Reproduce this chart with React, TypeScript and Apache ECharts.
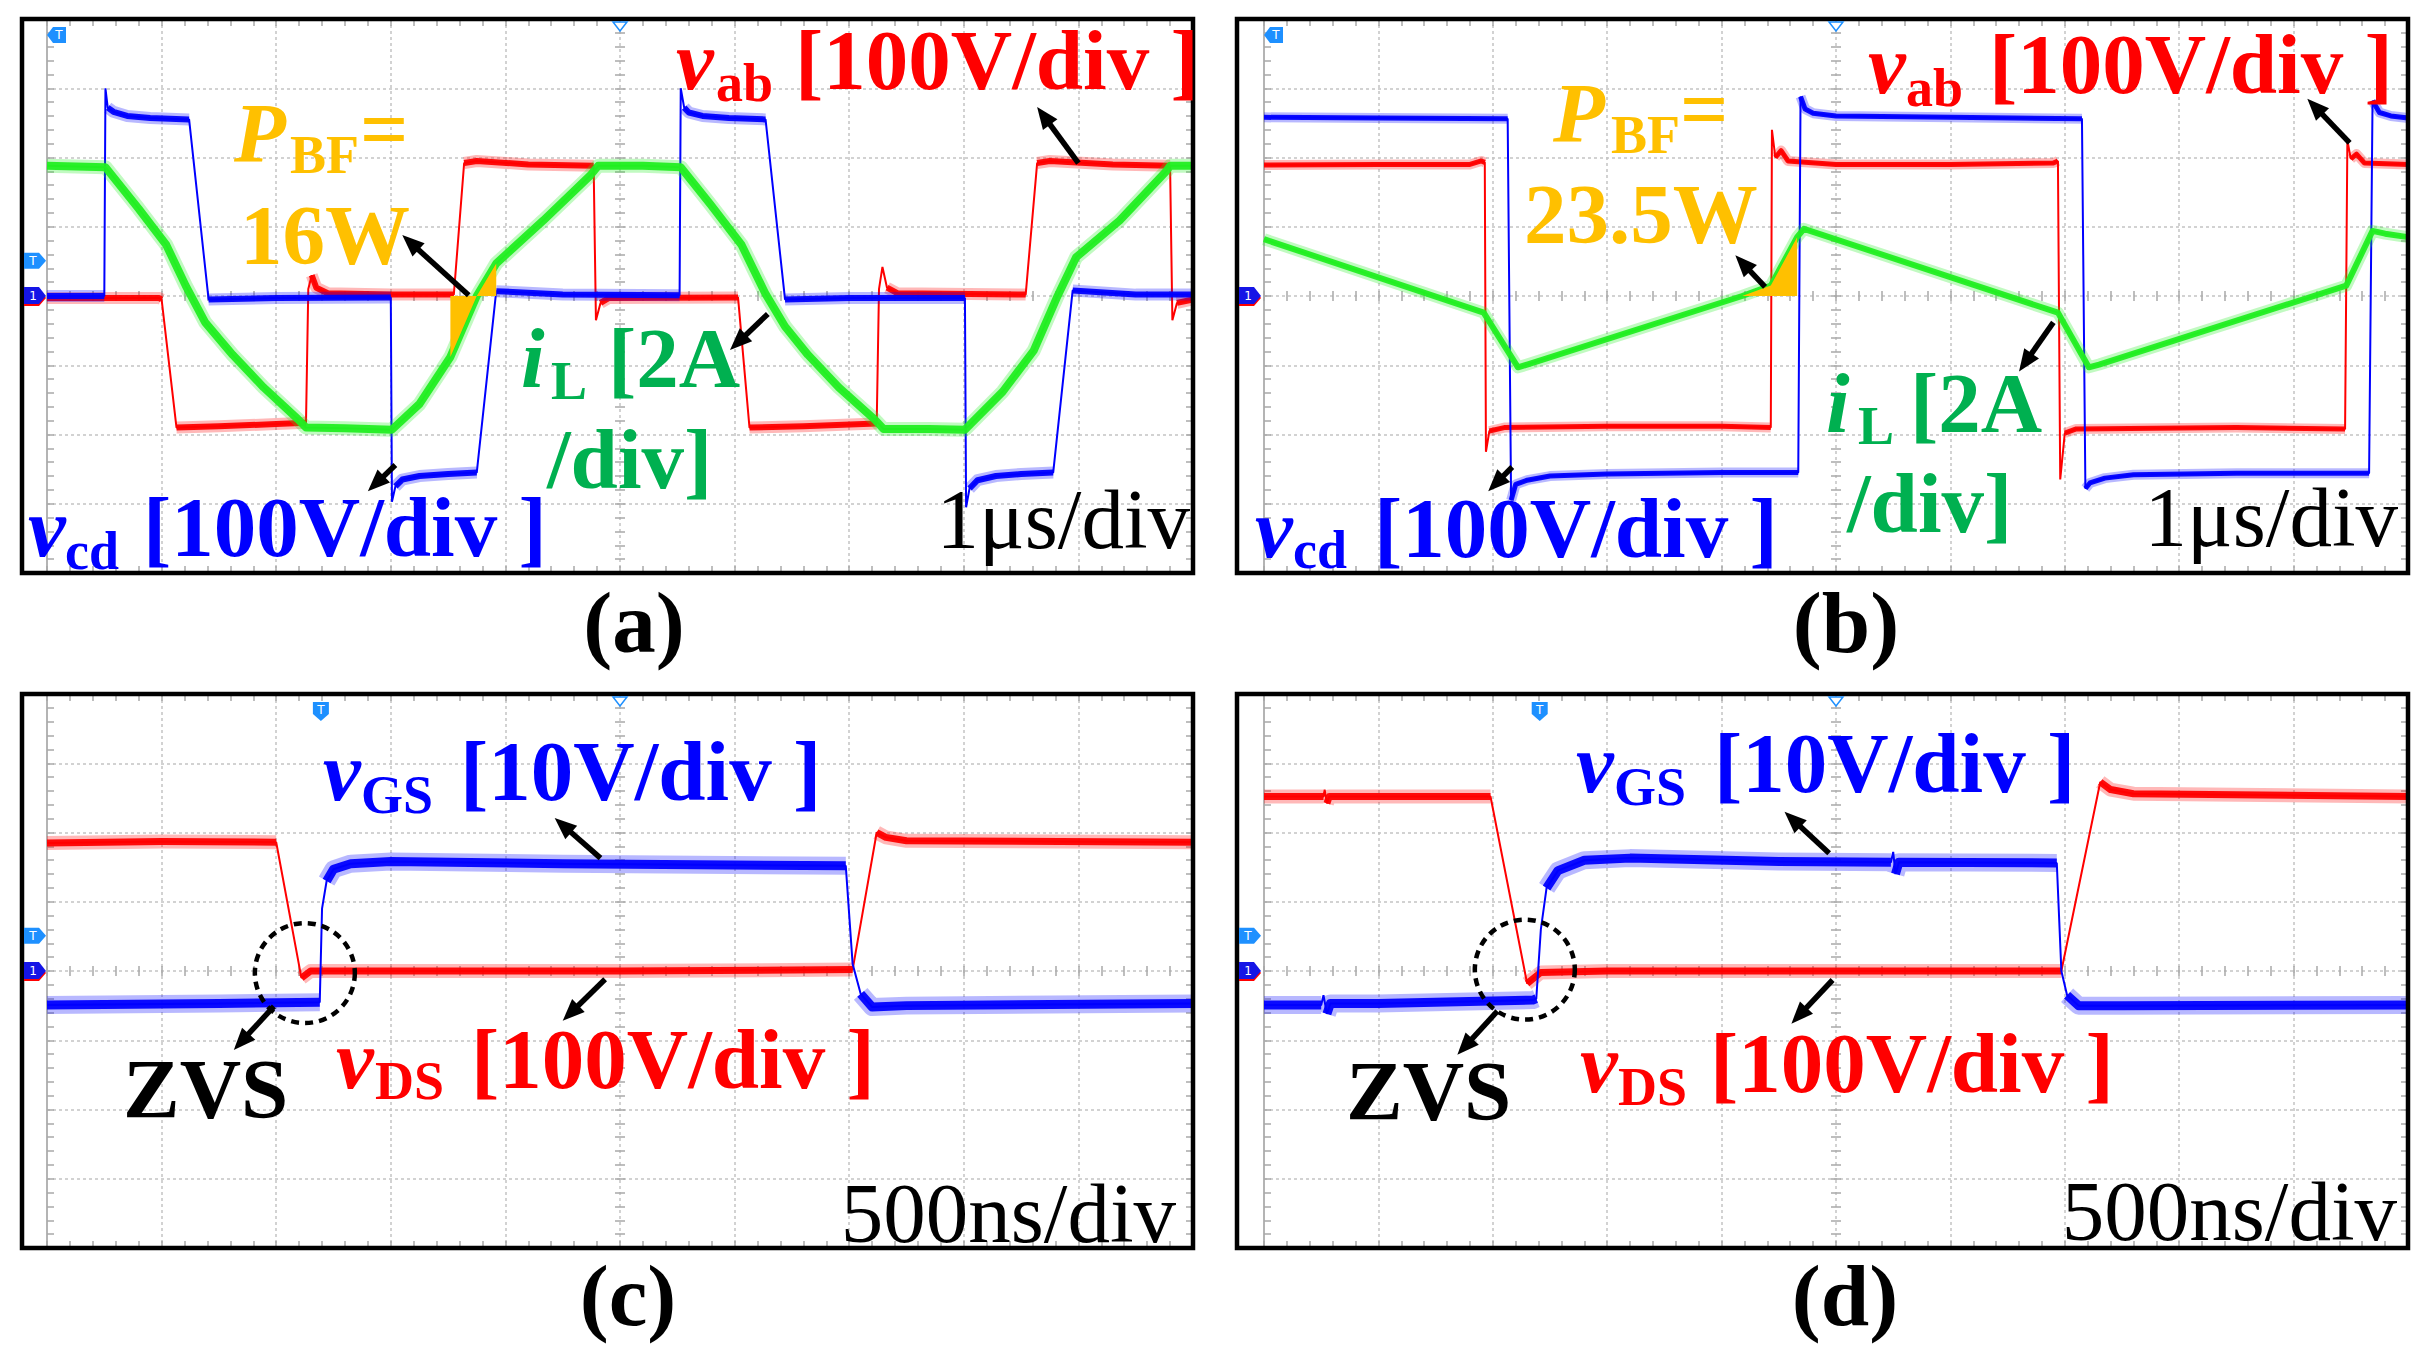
import React, { useEffect, useRef } from 'react';
import * as echarts from 'echarts';

type Pt = [number, number];

// ---------- trace data: x in divisions (0..10), y in divisions (-4..4) ----------
// Panel (a)
const vabA: Pt[] = [[0,-0.03],[0.98,-0.03],[1.0,-0.05],[1.13,-1.9],[1.5,-1.88],[2.0,-1.85],[2.26,-1.83],[2.28,0.1],[2.31,0.3],[2.35,0.12],[2.45,0.04],[3.0,0.02],[3.55,0.02],[3.64,1.92],[3.75,1.95],[4.2,1.9],[4.77,1.88],[4.79,-0.35],[4.83,-0.1],[4.9,-0.03],[6.03,-0.02],[6.13,-1.9],[6.6,-1.88],[7.24,-1.84],[7.26,0.1],[7.29,0.42],[7.33,0.12],[7.42,0.04],[8.54,0.02],[8.64,1.92],[8.75,1.95],[9.3,1.9],[9.8,1.88],[9.82,-0.35],[9.86,-0.1],[10,-0.05]];
const vcdA: Pt[] = [[0,0],[0.5,0],[0.51,3.0],[0.53,2.72],[0.58,2.66],[0.7,2.6],[0.9,2.57],[1.24,2.55],[1.41,-0.05],[2.0,-0.03],[3.0,-0.02],[3.01,-2.97],[3.04,-2.75],[3.1,-2.65],[3.25,-2.6],[3.5,-2.57],[3.75,-2.55],[3.92,0.07],[4.5,0.02],[5.52,0.01],[5.53,3.0],[5.56,2.72],[5.6,2.65],[5.72,2.6],[5.95,2.57],[6.27,2.55],[6.44,-0.05],[7.0,-0.03],[8.01,-0.03],[8.02,-3.05],[8.05,-2.78],[8.12,-2.66],[8.28,-2.6],[8.5,-2.57],[8.78,-2.55],[8.95,0.08],[9.5,0.02],[10,0.02]];
const iLA: Pt[] = [[0,1.88],[0.51,1.86],[0.8,1.26],[1.04,0.74],[1.21,0.15],[1.38,-0.38],[1.62,-0.85],[1.89,-1.32],[2.19,-1.78],[2.26,-1.9],[2.6,-1.91],[3.01,-1.93],[3.25,-1.56],[3.52,-0.88],[3.75,0.0],[3.92,0.47],[4.33,1.09],[4.74,1.74],[4.81,1.88],[5.2,1.88],[5.53,1.86],[5.79,1.32],[6.06,0.74],[6.27,0.03],[6.44,-0.44],[6.64,-0.85],[6.91,-1.32],[7.22,-1.78],[7.3,-1.92],[7.7,-1.92],[8.01,-1.93],[8.34,-1.38],[8.61,-0.79],[8.81,-0.03],[8.98,0.56],[9.36,1.09],[9.76,1.79],[9.8,1.88],[10,1.88]];
const pbfA: Pt[] = [[3.52,-0.88],[3.75,0.0],[3.92,0.47]];

// Panel (b)
const vabB: Pt[] = [[0,1.89],[1.0,1.9],[1.8,1.9],[1.9,1.95],[1.93,1.93],[1.94,-2.25],[1.97,-1.95],[2.1,-1.9],[3.0,-1.88],[4.0,-1.88],[4.43,-1.9],[4.44,2.4],[4.47,2.0],[4.52,2.1],[4.58,1.95],[5.0,1.9],[6.0,1.9],[6.9,1.92],[6.94,1.95],[6.96,-2.65],[7.0,-1.98],[7.1,-1.92],[8.5,-1.9],[9.45,-1.92],[9.47,2.25],[9.5,1.98],[9.55,2.05],[9.62,1.92],[10,1.9]];
const vcdB: Pt[] = [[0,2.58],[1.0,2.57],[2.13,2.56],[2.16,-2.95],[2.2,-2.72],[2.3,-2.66],[2.5,-2.6],[3.0,-2.57],[4.0,-2.55],[4.67,-2.55],[4.69,2.88],[4.73,2.7],[4.8,2.64],[5.0,2.6],[6.0,2.58],[7.15,2.56],[7.18,-2.78],[7.22,-2.7],[7.35,-2.63],[7.6,-2.58],[8.5,-2.56],[9.66,-2.56],[9.69,2.82],[9.75,2.65],[9.85,2.6],[10,2.57]];
const iLB: Pt[] = [[0,0.82],[1.92,-0.24],[2.22,-1.03],[2.3,-0.99],[4.18,0.0],[4.43,0.15],[4.66,0.85],[4.72,0.97],[6.94,-0.24],[7.21,-1.03],[7.3,-0.99],[9.46,0.15],[9.69,0.94],[9.8,0.9],[10,0.85]];
const pbfB: Pt[] = [[4.18,0.0],[4.43,0.15],[4.66,0.85]];

// Panel (c)
const vdsC: Pt[] = [[0,1.85],[1.0,1.87],[2.0,1.86],[2.22,-0.1],[2.3,0.0],[5.0,0.0],[7.03,0.02],[7.24,2.0],[7.32,1.93],[7.5,1.88],[10,1.86]];
const vgsC: Pt[] = [[0,-0.49],[1.5,-0.47],[2.38,-0.45],[2.4,0.9],[2.44,1.3],[2.5,1.47],[2.65,1.55],[3.0,1.58],[4.5,1.55],[6.97,1.52],[7.03,0.1],[7.1,-0.33],[7.2,-0.52],[7.5,-0.5],[10,-0.47]];

// Panel (d)
const vdsD: Pt[] = [[0,2.52],[0.52,2.52],[0.53,2.62],[0.55,2.42],[0.57,2.52],[1.98,2.52],[2.3,-0.18],[2.42,-0.02],[3.0,0.0],[5.5,0.0],[6.97,0.0],[7.31,2.73],[7.4,2.62],[7.6,2.56],[10,2.52]];
const vgsD: Pt[] = [[0,-0.49],[0.5,-0.49],[0.52,-0.35],[0.55,-0.62],[0.58,-0.47],[1.0,-0.47],[2.35,-0.42],[2.38,-0.4],[2.42,0.6],[2.47,1.2],[2.57,1.45],[2.8,1.6],[3.2,1.63],[4.5,1.58],[5.48,1.57],[5.5,1.72],[5.52,1.4],[5.55,1.57],[6.93,1.56],[6.97,0.0],[7.02,-0.35],[7.12,-0.5],[7.5,-0.5],[10,-0.49]];

// annotation arrows: [tailX, tailY, headX, headY] in divisions
const arrowsA = [[9.0,1.92,8.64,2.73],[3.68,0.01,3.10,0.88],[6.29,-0.26,5.96,-0.78],[3.04,-2.44,2.80,-2.82]];
const arrowsB = [[9.49,2.21,9.12,2.85],[4.38,0.13,4.12,0.59],[6.9,-0.38,6.6,-1.09],[2.17,-2.47,1.96,-2.82]];
const arrowsC = [[4.83,1.63,4.43,2.21],[4.87,-0.12,4.50,-0.72],[1.98,-0.51,1.63,-1.14]];
const arrowsD = [[4.94,1.70,4.55,2.30],[4.97,-0.13,4.61,-0.76],[2.04,-0.58,1.69,-1.21]];
const zvsCircleC: Pt = [2.25, -0.03];
const zvsCircleD: Pt = [2.28, 0.02];

const RED = '#FF0000';
const BLUE = '#0000FF';
const GREEN = '#22EE22';
const GREEN_TXT = '#00B050';
const ORANGE = '#FFC000';
const LBLUE = '#1E90FF';
const FONT = '"Liberation Serif", "Times New Roman", serif';

const PANELS = [
  { frameX: 22, left: 47, top: 19, width: 1146, height: 554 },
  { frameX: 1237, left: 1264, top: 19, width: 1144, height: 554 },
  { frameX: 22, left: 47, top: 694, width: 1146, height: 554 },
  { frameX: 1237, left: 1264, top: 694, width: 1144, height: 554 },
];

function px(p: any, xd: number, yd: number): Pt {
  return [p.left + (xd / 10) * p.width, p.top + ((4 - yd) / 8) * p.height];
}

function splitSteep(d: Pt[], thr = 6): any[] {
  const out: any[] = [];
  d.forEach((pt, i) => {
    if (i > 0) {
      const q = d[i - 1];
      const s = Math.abs((pt[1] - q[1]) / (pt[0] - q[0]));
      if (s > thr) out.push([(pt[0] + q[0]) / 2, '-']);
    }
    out.push(pt);
  });
  return out;
}

function t(x: number, b: number, text: string, size: number, fill: string, italic = false, weight = 'bold', align = 'left') {
  return {
    type: 'text', x, y: b - 0.3375 * size, z: 100, silent: true,
    style: { text, fill, fontSize: size, fontFamily: FONT, fontWeight: weight, fontStyle: italic ? 'italic' : 'normal', align, verticalAlign: 'middle' },
  };
}

function arrowEls(p: any, a: number[]) {
  const [x1, y1] = px(p, a[0], a[1]);
  const [x2, y2] = px(p, a[2], a[3]);
  const dx = x2 - x1, dy = y2 - y1;
  const len = Math.hypot(dx, dy);
  const ux = dx / len, uy = dy / len;
  const hl = 22, hw = 9;
  const bx = x2 - ux * hl, by = y2 - uy * hl;
  return [
    { type: 'line', z: 80, silent: true, shape: { x1, y1, x2: bx + ux * 3, y2: by + uy * 3 }, style: { stroke: '#000', lineWidth: 5.5 } },
    { type: 'polygon', z: 80, silent: true, shape: { points: [[x2, y2], [bx - uy * hw, by + ux * hw], [bx + uy * hw, by - ux * hw]] }, style: { fill: '#000' } },
  ];
}

function buildOption() {
  const grids: any[] = [];
  const xAxes: any[] = [];
  const yAxes: any[] = [];
  const series: any[] = [];
  const graphics: any[] = [];
  const tickStyle = { color: '#a8a8a8', width: 1.5 };
  const dotted = { show: true, lineStyle: { color: '#c4c4c4', width: 1.5, type: [3, 3] } };

  const traces = [
    { list: [[vabA, RED, 6, 12], [vcdA, BLUE, 6, 12], [iLA, GREEN, 8, 14]], pbf: pbfA, arrows: arrowsA },
    { list: [[vabB, RED, 5, 10], [vcdB, BLUE, 5, 10], [iLB, GREEN, 6, 12]], pbf: pbfB, arrows: arrowsB },
    { list: [[vdsC, RED, 7, 14], [vgsC, BLUE, 9, 18]], pbf: null, arrows: arrowsC },
    { list: [[vdsD, RED, 7, 14], [vgsD, BLUE, 9, 18]], pbf: null, arrows: arrowsD },
  ];

  PANELS.forEach((p, i) => {
    const rect = { left: p.left, top: p.top, width: p.width, height: p.height };
    grids.push({ ...rect }, { ...rect }, { ...rect });
    const edgeTick = { show: true, inside: true, length: 7, lineStyle: tickStyle };
    const edgeMinor = { show: true, splitNumber: 5, length: 7, lineStyle: tickStyle };
    const cTick = (inside: boolean) => ({ show: true, inside, length: 5, lineStyle: tickStyle });
    const cMinor = (inside: boolean) => ({ show: true, splitNumber: 5, length: 5, lineStyle: tickStyle });
    const common = { type: 'value', axisLabel: { show: false }, splitLine: { show: false } };

    xAxes.push(
      { ...common, gridIndex: 3 * i, min: 0, max: 10, interval: 1, position: 'bottom', axisLine: { show: false, onZero: false }, axisTick: edgeTick, minorTick: edgeMinor, splitLine: dotted },
      { ...common, gridIndex: 3 * i, min: 0, max: 10, interval: 1, position: 'top', axisLine: { show: false, onZero: false }, axisTick: edgeTick, minorTick: edgeMinor },
      { ...common, gridIndex: 3 * i + 1, min: -5, max: 5, interval: 1, axisLine: { show: true, onZero: true, lineStyle: { opacity: 0 } }, axisTick: cTick(true), minorTick: cMinor(true) },
      { ...common, gridIndex: 3 * i + 2, min: -5, max: 5, interval: 1, axisLine: { show: true, onZero: true, lineStyle: { opacity: 0 } }, axisTick: cTick(false), minorTick: cMinor(false) },
    );
    yAxes.push(
      { ...common, gridIndex: 3 * i, min: -4, max: 4, interval: 1, position: 'left', axisLine: { show: true, onZero: false, lineStyle: { color: '#b4b4b4', width: 2 } }, axisTick: edgeTick, minorTick: edgeMinor, splitLine: dotted },
      { ...common, gridIndex: 3 * i, min: -4, max: 4, interval: 1, position: 'right', axisLine: { show: false, onZero: false }, axisTick: edgeTick, minorTick: edgeMinor },
      { ...common, gridIndex: 3 * i + 1, min: -4, max: 4, interval: 1, axisLine: { show: true, onZero: true, lineStyle: { opacity: 0 } }, axisTick: cTick(true), minorTick: cMinor(true) },
      { ...common, gridIndex: 3 * i + 2, min: -4, max: 4, interval: 1, axisLine: { show: true, onZero: true, lineStyle: { opacity: 0 } }, axisTick: cTick(false), minorTick: cMinor(false) },
    );

    const ax = { xAxisIndex: 4 * i, yAxisIndex: 4 * i };
    const tr = traces[i];
    tr.list.forEach((it: any, k: number) => {
      const [d, color, core, halo] = it;
      const base = { type: 'line', ...ax, symbol: 'none', silent: true, animation: false, connectNulls: false };
      series.push({ ...base, data: splitSteep(d), z: 2 + k, lineStyle: { color, width: halo, opacity: 0.28, join: 'round' } });
      series.push({ ...base, data: d, z: 2 + k, lineStyle: { color, width: 2 } });
      series.push({ ...base, data: splitSteep(d), z: 2 + k, lineStyle: { color, width: core, opacity: 0.95, join: 'round' } });
    });
    if (tr.pbf) {
      series.push({ type: 'line', ...ax, symbol: 'none', silent: true, data: tr.pbf, z: 8, lineStyle: { width: 0, opacity: 0 }, areaStyle: { color: ORANGE, opacity: 1, origin: 0 } });
    }
    tr.arrows.forEach((a) => graphics.push(...arrowEls(p, a)));

    // frame
    graphics.push({ type: 'rect', z: 90, silent: true, shape: { x: p.frameX, y: p.top, width: p.left + p.width - p.frameX, height: p.height }, style: { fill: 'none', stroke: '#000', lineWidth: 4.5 } });
    // top-centre trigger-position marker
    const cx = p.left + p.width / 2;
    graphics.push({ type: 'polygon', z: 95, silent: true, shape: { points: [[cx - 7, p.top + 3], [cx + 7, p.top + 3], [cx, p.top + 12]] }, style: { fill: '#fff', stroke: LBLUE, lineWidth: 1.5 } });
    // channel "1" marker at centre line
    const [, y0] = px(p, 0, 0);
    const mx = p.frameX + 2;
    graphics.push({ type: 'polygon', z: 95, silent: true, shape: { points: [[mx, y0 - 7], [mx + 15, y0 - 7], [mx + 22, y0 + 2], [mx + 15, y0 + 10], [mx, y0 + 10]] }, style: { fill: RED } });
    graphics.push({ type: 'polygon', z: 96, silent: true, shape: { points: [[mx, y0 - 9], [mx + 15, y0 - 9], [mx + 22, y0], [mx + 15, y0 + 8], [mx, y0 + 8]] }, style: { fill: '#1515E6' } });
    graphics.push({ type: 'text', z: 97, silent: true, x: mx + 9, y: y0, style: { text: '1', fill: '#fff', fontSize: 12, fontFamily: 'DejaVu Sans', align: 'center', verticalAlign: 'middle' } });
    // left trigger-level marker
    if (i !== 1) {
      const [, yt] = px(p, 0, 0.51);
      graphics.push({ type: 'polygon', z: 95, silent: true, shape: { points: [[mx, yt - 8], [mx + 15, yt - 8], [mx + 22, yt], [mx + 15, yt + 8], [mx, yt + 8]] }, style: { fill: LBLUE } });
      graphics.push({ type: 'text', z: 97, silent: true, x: mx + 9, y: yt, style: { text: 'T', fill: '#fff', fontSize: 12, fontFamily: 'DejaVu Sans', align: 'center', verticalAlign: 'middle' } });
    }
    if (i < 2) {
      // top-left marker pointing left
      const lx = p.left;
      const ty = p.top + 16;
      graphics.push({ type: 'polygon', z: 95, silent: true, shape: { points: [[lx, ty], [lx + 6, ty - 8], [lx + 19, ty - 8], [lx + 19, ty + 8], [lx + 6, ty + 8]] }, style: { fill: LBLUE } });
      graphics.push({ type: 'text', z: 97, silent: true, x: lx + 12, y: ty, style: { text: 'T', fill: '#fff', fontSize: 12, fontFamily: 'DejaVu Sans', align: 'center', verticalAlign: 'middle' } });
    } else {
      // top trigger marker pointing down
      const [tx] = px(p, i === 2 ? 2.39 : 2.41, 0);
      const ty = p.top + 8;
      graphics.push({ type: 'polygon', z: 95, silent: true, shape: { points: [[tx - 8, ty], [tx + 8, ty], [tx + 8, ty + 12], [tx, ty + 19], [tx - 8, ty + 12]] }, style: { fill: LBLUE } });
      graphics.push({ type: 'text', z: 97, silent: true, x: tx, y: ty + 8, style: { text: 'T', fill: '#fff', fontSize: 12, fontFamily: 'DejaVu Sans', align: 'center', verticalAlign: 'middle' } });
      const c = px(p, ...(i === 2 ? zvsCircleC : zvsCircleD));
      graphics.push({ type: 'circle', z: 60, silent: true, shape: { cx: c[0], cy: c[1], r: 50 }, style: { fill: 'none', stroke: '#000', lineWidth: 4.5, lineDash: [8, 6] } });
    }
  });

  const texts = [
    // (a)
    t(676, 89, 'v', 85, RED, true), t(716, 101, 'ab', 54, RED), t(795, 89, '[100V/div ]', 85, RED),
    t(234, 162, 'P', 85, ORANGE, true), t(290, 173, 'BF', 54, ORANGE), t(360, 158, '=', 85, ORANGE), t(240, 264, '16W', 85, ORANGE),
    t(521, 387, 'i', 85, GREEN_TXT, true), t(551, 399, 'L', 54, GREEN_TXT), t(608, 387, '[2A', 85, GREEN_TXT), t(547, 488, '/div]', 85, GREEN_TXT),
    t(28, 556, 'v', 85, BLUE, true), t(65, 569, 'cd', 54, BLUE), t(143, 556, '[100V/div ]', 85, BLUE),
    t(1190, 548, '1μs/div', 85, '#000', false, 'normal', 'right'),
    t(634, 652, '(a)', 87, '#000', false, 'bold', 'center'),
    // (b)
    t(1868, 93, 'v', 85, RED, true), t(1906, 106, 'ab', 54, RED), t(1989, 93, '[100V/div ]', 85, RED),
    t(1553, 142, 'P', 85, ORANGE, true), t(1611, 153, 'BF', 54, ORANGE), t(1680, 138, '=', 85, ORANGE), t(1524, 243, '23.5W', 85, ORANGE),
    t(1826, 432, 'i', 85, GREEN_TXT, true), t(1858, 444, 'L', 54, GREEN_TXT), t(1910, 432, '[2A', 85, GREEN_TXT), t(1847, 532, '/div]', 85, GREEN_TXT),
    t(1255, 557, 'v', 85, BLUE, true), t(1293, 568, 'cd', 54, BLUE), t(1374, 557, '[100V/div ]', 85, BLUE),
    t(2398, 546, '1μs/div', 85, '#000', false, 'normal', 'right'),
    t(1846, 652, '(b)', 87, '#000', false, 'bold', 'center'),
    // (c)
    t(323, 800, 'v', 85, BLUE, true), t(361, 813, 'GS', 54, BLUE), t(460, 800, '[10V/div ]', 85, BLUE),
    t(336, 1088, 'v', 85, RED, true), t(375, 1099, 'DS', 54, RED), t(471, 1088, '[100V/div ]', 85, RED),
    t(123, 1118, 'ZVS', 85, '#000'),
    t(1176, 1242, '500ns/div', 85, '#000', false, 'normal', 'right'),
    t(628, 1325, '(c)', 87, '#000', false, 'bold', 'center'),
    // (d)
    t(1576, 792, 'v', 85, BLUE, true), t(1614, 805, 'GS', 54, BLUE), t(1714, 792, '[10V/div ]', 85, BLUE),
    t(1580, 1092, 'v', 85, RED, true), t(1618, 1105, 'DS', 54, RED), t(1710, 1092, '[100V/div ]', 85, RED),
    t(1346, 1120, 'ZVS', 85, '#000'),
    t(2397, 1240, '500ns/div', 85, '#000', false, 'normal', 'right'),
    t(1845, 1325, '(d)', 87, '#000', false, 'bold', 'center'),
  ];

  return {
    animation: false,
    backgroundColor: '#ffffff',
    grid: grids,
    xAxis: xAxes,
    yAxis: yAxes,
    series,
    graphic: { elements: [...graphics, ...texts] },
  };
}

export default function App() {
  const ref = useRef<HTMLDivElement>(null);
  useEffect(() => {
    if (!ref.current) return;
    const chart = echarts.init(ref.current, undefined, { renderer: 'svg' });
    chart.setOption(buildOption() as any);
    return () => chart.dispose();
  }, []);
  return <div ref={ref} style={{ position: 'absolute', left: 0, top: 0, width: 2425, height: 1345 }} />;
}
